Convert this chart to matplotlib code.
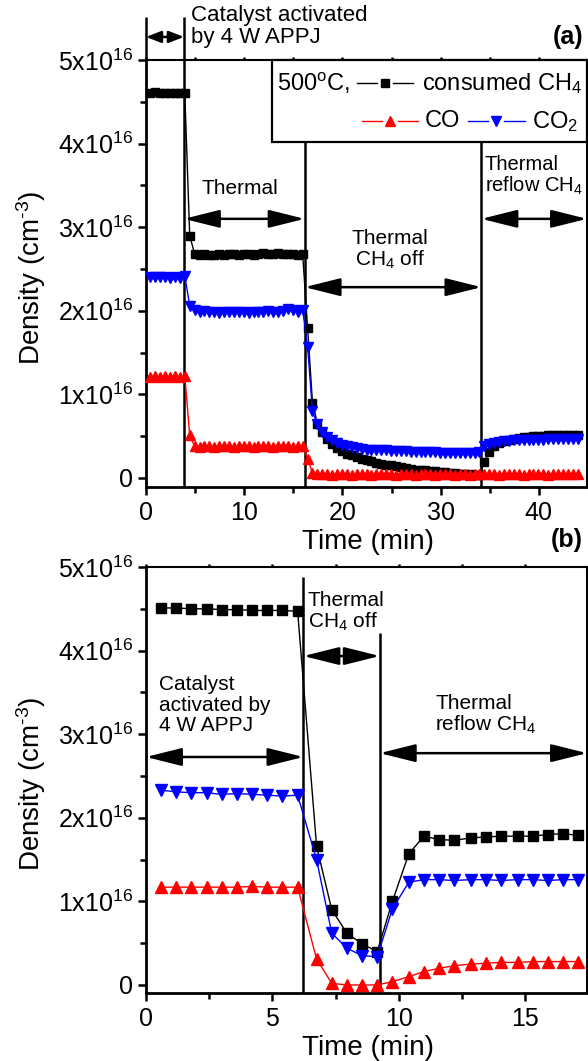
import numpy as np
import matplotlib
matplotlib.use("Agg")
import matplotlib.pyplot as plt
from matplotlib.ticker import MultipleLocator, FuncFormatter
from matplotlib.transforms import blended_transform_factory
from matplotlib.patches import Rectangle

plt.rcParams['font.family'] = ['Liberation Sans', 'DejaVu Sans']
plt.rcParams['mathtext.fontset'] = 'custom'
plt.rcParams['mathtext.rm'] = 'Liberation Sans'
plt.rcParams['mathtext.it'] = 'Liberation Sans:italic'
plt.rcParams['mathtext.bf'] = 'Liberation Sans:bold'
plt.rcParams['mathtext.default'] = 'regular'

# ---------------- data: panel (a) (time in min, density in 1e16 cm^-3) ----------------
time_a = [0.45, 0.95, 1.45, 1.95, 2.45, 2.95, 3.45, 3.95, 4.45, 4.95,
          5.45, 5.95, 6.45, 6.95, 7.45, 7.95, 8.45, 8.95, 9.45, 9.95,
          10.45, 10.95, 11.45, 11.95, 12.45, 12.95, 13.45, 13.95, 14.45, 14.95,
          15.45, 15.95, 16.45, 16.95, 17.45, 17.95, 18.45, 18.95, 19.45, 19.95,
          20.45, 20.95, 21.45, 21.95, 22.45, 22.95, 23.45, 23.95, 24.45, 24.95,
          25.45, 25.95, 26.45, 26.95, 27.45, 27.95, 28.45, 28.95, 29.45, 29.95,
          30.45, 30.95, 31.45, 31.95, 32.45, 32.95, 33.45, 33.95, 34.45, 34.95,
          35.45, 35.95, 36.45, 36.95, 37.45, 37.95, 38.45, 38.95, 39.45, 39.95,
          40.45, 40.95, 41.45, 41.95, 42.45, 42.95, 43.45, 43.95]
ch4_a = [4.61, 4.62, 4.60, 4.61, 4.61, 4.60, 4.61, 4.60,
         2.90,
         2.68, 2.67, 2.68, 2.67, 2.67, 2.68, 2.67, 2.68, 2.68, 2.67, 2.68, 2.68,
         2.67, 2.68, 2.69, 2.68, 2.68, 2.69, 2.68, 2.68, 2.68, 2.67, 2.68,
         1.80, 0.90, 0.65, 0.55, 0.47, 0.41, 0.36, 0.32, 0.29, 0.27, 0.25, 0.23,
         0.21, 0.20, 0.18, 0.17, 0.16, 0.15, 0.14, 0.13, 0.12, 0.11, 0.10, 0.10,
         0.09, 0.08, 0.08, 0.07, 0.07, 0.06, 0.06, 0.05, 0.05, 0.05, 0.04, 0.04,
         0.19, 0.31, 0.38, 0.42, 0.44, 0.46, 0.47, 0.48, 0.49, 0.49,
         0.50, 0.50, 0.50, 0.51, 0.51, 0.51, 0.51, 0.51, 0.51, 0.51]
co2_a = [2.41, 2.40, 2.41, 2.40, 2.39, 2.40, 2.39, 2.42,
         2.06,
         2.01, 1.99, 2.00, 1.98, 1.99, 1.97, 1.99, 1.98, 1.99, 1.99, 1.98, 1.97,
         1.99, 1.98, 1.99, 2.00, 1.99, 1.99, 2.00, 2.02, 2.01, 1.99, 2.01,
         1.57, 0.80, 0.64, 0.55, 0.49, 0.45, 0.42, 0.40, 0.38, 0.37, 0.36, 0.35,
         0.34, 0.34, 0.33, 0.33, 0.33, 0.32, 0.32, 0.32, 0.32, 0.31, 0.31, 0.31,
         0.31, 0.31, 0.31, 0.30, 0.30, 0.30, 0.30, 0.30, 0.30, 0.30, 0.30, 0.31,
         0.38, 0.41, 0.42, 0.43, 0.44, 0.44, 0.45, 0.45, 0.45, 0.46,
         0.46, 0.46, 0.46, 0.47, 0.47, 0.47, 0.47, 0.47, 0.47, 0.47]
co_a = [1.21, 1.22, 1.21, 1.22, 1.21, 1.22, 1.21, 1.22,
        0.51,
        0.38, 0.37, 0.38, 0.38, 0.37, 0.38, 0.38, 0.38, 0.37, 0.38, 0.38, 0.38,
        0.37, 0.38, 0.38, 0.38, 0.37, 0.38, 0.38, 0.38, 0.37, 0.38, 0.38,
        0.23, 0.06, 0.05, 0.05, 0.05, 0.04, 0.05, 0.05, 0.05, 0.04, 0.05, 0.05,
        0.05, 0.04, 0.05, 0.05, 0.05, 0.05, 0.04, 0.05, 0.05, 0.05, 0.04, 0.05,
        0.05, 0.05, 0.04, 0.05, 0.05, 0.05, 0.04, 0.05, 0.05, 0.04, 0.05, 0.05,
        0.05, 0.05, 0.05, 0.04, 0.05, 0.05, 0.05, 0.05, 0.04, 0.05,
        0.05, 0.05, 0.05, 0.04, 0.05, 0.05, 0.05, 0.05, 0.05, 0.05]

# ---------------- data: panel (b) ----------------
time_b = [0.6, 1.2, 1.8, 2.4, 3.0, 3.6, 4.2, 4.8, 5.4, 6.0,
          6.75, 7.35, 7.95, 8.55, 9.15, 9.75, 10.4, 11.0, 11.6, 12.2,
          12.85, 13.45, 14.05, 14.7, 15.3, 15.9, 16.5, 17.1]
ch4_b = [4.51, 4.51, 4.50, 4.50, 4.49, 4.49, 4.48, 4.48, 4.48, 4.47,
         1.66, 0.90, 0.62, 0.49, 0.40, 1.00, 1.57, 1.78, 1.74, 1.73,
         1.76, 1.77, 1.78, 1.78, 1.78, 1.80, 1.81, 1.79]
co2_b = [2.33, 2.31, 2.30, 2.30, 2.28, 2.29, 2.28, 2.27, 2.26, 2.27,
         1.50, 0.62, 0.44, 0.35, 0.34, 0.91, 1.23, 1.26, 1.26, 1.25,
         1.26, 1.26, 1.25, 1.26, 1.26, 1.25, 1.26, 1.26]
co_b = [1.17, 1.17, 1.17, 1.17, 1.17, 1.17, 1.18, 1.17, 1.17, 1.17,
        0.31, 0.02, 0.00, 0.00, 0.00, 0.04, 0.10, 0.16, 0.20, 0.23,
        0.25, 0.26, 0.27, 0.27, 0.28, 0.28, 0.28, 0.28]

SCALE = 1e16
yticks = [0, 1, 2, 3, 4, 5]

# ---------------- figure ----------------
W, H = 588, 1061
fig = plt.figure(figsize=(W / 100, H / 100), dpi=100)
axA = fig.add_axes([146 / W, 1 - 487 / H, 441 / W, 427 / H])
axB = fig.add_axes([146 / W, 1 - 993 / H, 441 / W, 426 / H])


def yfmt(v, pos):
    k = v / SCALE
    if abs(k) < 1e-9:
        return '0'
    return f'{k:.0f}x10$^{{16}}$'


def style_axes(ax, xmax, xmajor, xminor, ybottom):
    ax.set_xlim(0, xmax)
    ax.set_ylim(ybottom * SCALE, 5.0 * SCALE)
    ax.set_yticks([v * SCALE for v in yticks])
    ax.yaxis.set_minor_locator(MultipleLocator(0.5 * SCALE))
    ax.yaxis.set_major_formatter(FuncFormatter(yfmt))
    ax.xaxis.set_major_locator(MultipleLocator(xmajor))
    ax.xaxis.set_minor_locator(MultipleLocator(xminor))
    for s in ['left', 'bottom']:
        ax.spines[s].set_linewidth(2.0)
    for s in ['top', 'right']:
        ax.spines[s].set_linewidth(1.5)
    ax.tick_params(axis='both', which='major', direction='out', length=6, width=1.8,
                   labelsize=18, pad=3)
    ax.tick_params(axis='both', which='minor', direction='out', length=4, width=1.8)
    ax.tick_params(axis='x', which='major', pad=4)
    ax.xaxis.set_tick_params(which='both', top=True)
    for t in ax.xaxis.get_major_ticks() + ax.xaxis.get_minor_ticks():
        t.tick2line.set_markersize(2)
    ax.set_xlabel('Time (min)', fontsize=20)
    ax.set_ylabel('Density (cm$^{\u20103}$)', fontsize=20)
    ax.xaxis.set_label_coords(0.503, -0.098)
    ax.xaxis.label.set_va('top')
    ax.yaxis.set_label_coords(-0.222, 0.49)


style_axes(axA, 44.9, 10, 5, -0.108)
style_axes(axB, 17.45, 5, 2.5, -0.096)


def plot_series(ax, t, ch4, co, co2, ms_sq, ms_tri):
    t = np.asarray(t)
    ax.plot(t, np.asarray(ch4) * SCALE, '-', color='black', lw=1.0, marker='s',
            ms=ms_sq, mec='black', mfc='black', zorder=4, clip_on=False)
    ax.plot(t, np.asarray(co) * SCALE, '-', color='red', lw=1.0, marker='^',
            ms=ms_tri, mec='red', mfc='red', zorder=4, clip_on=False)
    ax.plot(t, np.asarray(co2) * SCALE, '-', color='blue', lw=1.0, marker='v',
            ms=ms_tri, mec='blue', mfc='blue', zorder=4, clip_on=False)


plot_series(axA, time_a, ch4_a, co_a, co2_a, 5.5, 6.5)
plot_series(axB, time_b, ch4_b, co_b, co2_b, 6.5, 8.5)


def vline(ax, x, y0, y1, lw=1.8):
    tr = blended_transform_factory(ax.transData, ax.transAxes)
    ax.plot([x, x], [y0, y1], color='black', lw=lw, transform=tr, clip_on=False,
            zorder=3, solid_capstyle='butt')


def darrow(ax, x0, x1, y, hl=2.2, hw=0.55, lw=1.8):
    tr = blended_transform_factory(ax.transData, ax.transAxes)
    ax.annotate('', xy=(x1, y), xytext=(x0, y), xycoords=tr, textcoords=tr,
                arrowprops=dict(arrowstyle=f'<|-|>,head_length={hl},head_width={hw}',
                                mutation_scale=10, lw=lw, color='black',
                                shrinkA=0, shrinkB=0),
                annotation_clip=False, zorder=5)


FS = 15

# ---------------- panel (a) annotations ----------------
xa_cat, xa_off, xa_ref = 3.86, 16.15, 34.15
vline(axA, 0.0, 1.0, 1.101)
vline(axA, xa_cat, 0.0, 1.101)
vline(axA, xa_off, 0.0, 0.808)
vline(axA, xa_ref, 0.0, 0.808)
darrow(axA, 0.0, xa_cat, 1.054, hl=0.9, hw=0.35)
darrow(axA, xa_cat, xa_off, 0.628)
darrow(axA, xa_off, xa_ref, 0.468)
darrow(axA, xa_ref, 44.9, 0.628)

trA = blended_transform_factory(axA.transData, axA.transAxes)
axA.text(4.6, 1.128, 'Catalyst activated\nby 4 W APPJ', transform=trA, fontsize=16,
         ha='left', va='top', linespacing=1.05)
axA.text(9.6, 0.70, 'Thermal', transform=trA, fontsize=FS, ha='center', va='center')
axA.text(24.8, 0.555, 'Thermal\nCH$_4$ off', transform=trA, fontsize=FS, ha='center',
         va='center', linespacing=1.05)
axA.text(34.5, 0.728, 'Thermal\nreflow CH$_4$', transform=trA, fontsize=14.5, ha='left',
         va='center', linespacing=1.05)
axA.text(0.991, 1.054, '(a)', transform=axA.transAxes, fontsize=18, fontweight='bold',
         ha='right', va='center')

# legend box (custom layout, as in original)
axA.add_patch(Rectangle((0.2857, 0.808), 0.7143, 0.192, transform=axA.transAxes,
                        facecolor='white', edgecolor='black', lw=1.6, zorder=6,
                        clip_on=False))
ta = axA.transAxes


def handle(ax, xl, xr, y, color, marker, ms):
    xm = 0.5 * (xl + xr)
    gap = 0.018
    ax.plot([xl, xm - gap], [y, y], color=color, lw=1.0, transform=ax.transAxes,
            clip_on=False, zorder=7)
    ax.plot([xm + gap, xr], [y, y], color=color, lw=1.0, transform=ax.transAxes,
            clip_on=False, zorder=7)
    ax.plot([xm], [y], marker=marker, ms=ms, color=color, transform=ax.transAxes,
            clip_on=False, zorder=7)


axA.text(0.297, 0.946, '500$^{o}$C,', transform=ta, fontsize=17, ha='left',
         va='center', zorder=7)
handle(axA, 0.478, 0.605, 0.946, 'black', 's', 6)
axA.text(0.626, 0.946, 'consumed CH$_4$', transform=ta, fontsize=17, ha='left',
         va='center', zorder=7)
handle(axA, 0.490, 0.617, 0.857, 'red', '^', 7.5)
axA.text(0.633, 0.857, 'CO', transform=ta, fontsize=17, ha='left', va='center', zorder=7)
handle(axA, 0.730, 0.859, 0.857, 'blue', 'v', 7.5)
axA.text(0.875, 0.857, 'CO$_2$', transform=ta, fontsize=17, ha='left', va='center',
         zorder=7)

# ---------------- panel (b) annotations ----------------
xb_off, xb_ref = 6.23, 9.25
vline(axB, xb_off, 0.0, 0.977)
vline(axB, xb_ref, 0.0, 0.845)
darrow(axB, xb_off, xb_ref, 0.791)
darrow(axB, 0.0, xb_off, 0.554)
darrow(axB, xb_ref, 17.45, 0.563)

trB = blended_transform_factory(axB.transData, axB.transAxes)
axB.text(6.40, 0.894, 'Thermal\nCH$_4$ off', transform=trB, fontsize=FS, ha='left',
         va='center', linespacing=1.05)
axB.text(0.50, 0.676, 'Catalyst\nactivated by\n4 W APPJ', transform=trB, fontsize=FS,
         ha='left', va='center', linespacing=1.1)
axB.text(11.45, 0.652, 'Thermal\nreflow CH$_4$', transform=trB, fontsize=FS, ha='left',
         va='center', linespacing=1.05)
axB.text(0.991, 1.063, '(b)', transform=axB.transAxes, fontsize=18, fontweight='bold',
         ha='right', va='center')

fig.savefig('out.png', dpi=100)
